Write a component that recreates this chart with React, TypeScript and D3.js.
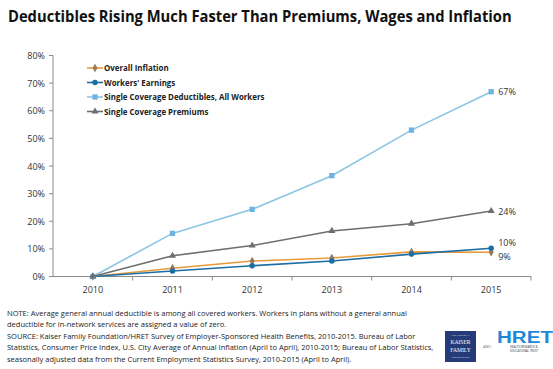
import React, { useRef, useEffect, useState } from "react";
import * as d3 from "d3";

const years = ["2010", "2011", "2012", "2013", "2014", "2015"];
const inflation = [0, 3.0, 5.6, 6.7, 8.9, 8.8];
const earnings = [0, 2.0, 3.9, 5.6, 8.1, 10.2];
const deductibles = [0, 15.6, 24.3, 36.5, 53.0, 66.9];
const premiums = [0, 7.5, 11.2, 16.5, 19.1, 23.7];
const yTicks = [0, 10, 20, 30, 40, 50, 60, 70, 80];
const endLabels = ["9%", "10%", "67%", "24%"];

const noteLines = [
  "NOTE:  Average  general annual deductible is among all covered workers. Workers  in plans without a general annual",
  "deductible for in-network services are assigned a value of zero.",
  "SOURCE:  Kaiser Family Foundation/HRET Survey of Employer-Sponsored  Health  Benefits,  2010-2015. Bureau of Labor",
  "Statistics, Consumer Price Index,  U.S. City Average  of Annual Inflation (April to April), 2010-2015; Bureau of Labor Statistics,",
  "seasonally adjusted data from the  Current Employment  Statistics Survey, 2010-2015 (April to April).",
];

type Series = {
  name: string;
  values: number[];
  color: string;
  marker: string;
  symbol: d3.SymbolType;
  size: number;
  labelDy: number;
};

const series: Series[] = [
  { name: "Overall Inflation", values: inflation, color: "#e99a3c", marker: "#9a7a5a", symbol: d3.symbolDiamond, size: 22, labelDy: 4 },
  { name: "Workers' Earnings", values: earnings, color: "#1c6ea4", marker: "#1c6ea4", symbol: d3.symbolCircle, size: 24, labelDy: -6 },
  { name: "Single Coverage Deductibles, All Workers", values: deductibles, color: "#8cc4e4", marker: "#6db3e0", symbol: d3.symbolSquare, size: 28, labelDy: 0 },
  { name: "Single Coverage Premiums", values: premiums, color: "#6e6e6e", marker: "#6e6e6e", symbol: d3.symbolTriangle, size: 22, labelDy: 0 },
];

const font = "'Open Sans', 'DejaVu Sans', sans-serif";

export default function App() {
  const width = 553,
    height = 369;
  const left = 53,
    right = 531,
    top = 55.5,
    bottom = 276.5;

  // squeeze the title horizontally to the reference width (Calibri is narrower)
  const titleRef = useRef<SVGTextElement>(null);
  const [titleScale, setTitleScale] = useState(1);
  useEffect(() => {
    if (titleRef.current) {
      const w = titleRef.current.getComputedTextLength();
      if (w > 0) setTitleScale(Math.min(1, 504 / w));
    }
  }, []);

  const x = d3.scaleBand().domain(years).range([left, right]);
  const y = d3.scaleLinear().domain([0, 80]).range([bottom, top]);
  const cx = (d: string) => (x(d) ?? 0) + x.bandwidth() / 2;

  const line = d3
    .line<number>()
    .x((_, i) => cx(years[i]))
    .y((d) => y(d));

  const legendY = [68, 82.5, 97, 111.5];

  return (
    <svg
      width={width}
      height={height}
      style={{ position: "absolute", left: 0, top: 0, background: "#fff" }}
    >
      <text
        ref={titleRef}
        transform={`translate(8,22) scale(${titleScale},1)`}
        fontFamily={font}
        fontWeight="bold"
        fontSize={16.5}
        fill="#111"
      >
        Deductibles Rising Much Faster Than Premiums, Wages and Inflation
      </text>

      {/* y axis */}
      <line x1={left} x2={left} y1={top} y2={bottom} stroke="#8a8a8a" />
      {yTicks.map((t) => (
        <g key={t}>
          <line x1={left - 4} x2={left} y1={y(t)} y2={y(t)} stroke="#8a8a8a" />
          <text
            x={left - 8}
            y={y(t) + 3.5}
            textAnchor="end"
            fontFamily={font}
            fontSize={9}
            fill="#333"
          >
            {t}%
          </text>
        </g>
      ))}

      {/* x axis */}
      <line x1={left} x2={right} y1={bottom} y2={bottom} stroke="#8a8a8a" strokeWidth={1.2} />
      {years.map((yr) => (
        <g key={yr}>
          <line
            x1={(x(yr) ?? 0) + x.bandwidth()}
            x2={(x(yr) ?? 0) + x.bandwidth()}
            y1={bottom}
            y2={bottom + 4}
            stroke="#8a8a8a"
          />
          <text
            x={cx(yr)}
            y={bottom + 16}
            textAnchor="middle"
            fontFamily={font}
            fontSize={9}
            fill="#333"
          >
            {yr}
          </text>
        </g>
      ))}

      {/* series */}
      {series.map((s) => (
        <g key={s.name}>
          <path d={line(s.values) ?? ""} fill="none" stroke={s.color} strokeWidth={1.6} />
          {s.values.map((v, i) => (
            <path
              key={i}
              d={d3.symbol().type(s.symbol).size(s.size)() ?? ""}
              transform={`translate(${cx(years[i])},${y(v)})`}
              fill={s.marker}
            />
          ))}
        </g>
      ))}

      {/* end labels */}
      {series.map((s, i) => (
        <text
          key={s.name}
          x={cx(years[5]) + 7}
          y={y(s.values[5]) + 3.5 + s.labelDy}
          fontFamily={font}
          fontSize={9}
          fill="#333"
        >
          {endLabels[i]}
        </text>
      ))}

      {/* legend */}
      {series.map((s, i) => (
        <g key={s.name} transform={`translate(87,${legendY[i]})`}>
          <line x1={0} x2={16} y1={0} y2={0} stroke={s.color} strokeWidth={1.6} />
          <path
            d={d3.symbol().type(s.symbol).size(s.size)() ?? ""}
            transform="translate(8,0)"
            fill={s.marker}
          />
          <text x={17} y={3.2} fontFamily={font} fontWeight="bold" fontSize={7.9} fill="#222">
            {s.name}
          </text>
        </g>
      ))}

      {/* notes */}
      {noteLines.map((l, i) => (
        <text
          key={i}
          x={7}
          y={315.5 + i * 11.5}
          fontFamily={font}
          fontSize={7.5}
          fill="#222"
        >
          {l}
        </text>
      ))}

      {/* logos */}
      <rect x={445} y={331} width={31} height={31} fill="#253a78" />
      <text x={460.5} y={336} textAnchor="middle" fontSize={2.8} fill="#fff" fontFamily="serif">
        THE HENRY J.
      </text>
      <text x={460.5} y={343.5} textAnchor="middle" fontSize={5.6} fill="#fff" fontFamily="'Liberation Serif', serif">
        KAISER
      </text>
      <text x={460.5} y={351.5} textAnchor="middle" fontSize={5.6} fill="#fff" fontFamily="'Liberation Serif', serif">
        FAMILY
      </text>
      <text x={460.5} y={357.5} textAnchor="middle" fontSize={2.8} fill="#fff" fontFamily="serif">
        FOUNDATION
      </text>
      <text x={487} y={348} textAnchor="middle" fontSize={3.5} fill="#666" fontFamily={font}>
        -AND-
      </text>
      <text
        x={497}
        y={343}
        fontSize={16}
        fontWeight="bold"
        fill="#1e88d8"
        fontFamily="'Liberation Sans', sans-serif"
        textLength={56}
        lengthAdjust="spacingAndGlyphs"
      >
        HRET
      </text>
      <text x={510} y={348} fontSize={2.8} fill="#333" fontFamily={font}>
        HEALTH RESEARCH &amp;
      </text>
      <text x={510} y={352} fontSize={2.8} fill="#333" fontFamily={font}>
        EDUCATIONAL TRUST
      </text>
    </svg>
  );
}
